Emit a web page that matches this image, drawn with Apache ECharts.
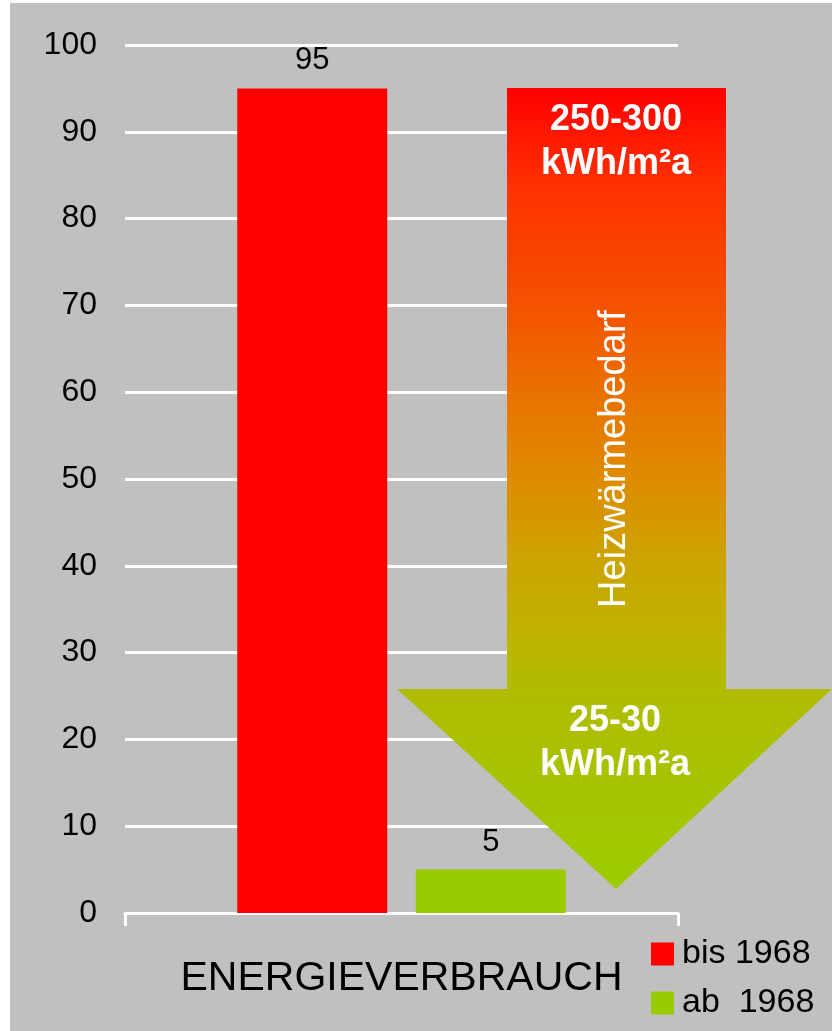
<!DOCTYPE html>
<html>
<head>
<meta charset="utf-8">
<script src="https://cdn.jsdelivr.net/npm/echarts@6/dist/echarts.min.js"></script>
<style>
html,body{margin:0;padding:0;background:#ffffff;}
#chart{position:absolute;left:10px;top:3px;width:822px;height:1028px;}
</style>
</head>
<body>
<div id="chart"></div>
<script>
// ---- data ----
const categories = ['ENERGIEVERBRAUCH'];
const seriesNames = ['bis 1968', 'ab  1968'];
const valuesBis1968 = [95];
const valuesAb1968 = [5];
const yTicks = {min: 0, max: 100, interval: 10};
const arrowTopText = '250-300\nkWh/m²a';
const arrowBottomText = '25-30\nkWh/m²a';
const arrowMidText = 'Heizwärmebedarf';

const FONT = "'Liberation Sans', Helvetica, Arial, sans-serif";
const chart = echarts.init(document.getElementById('chart'), null, {renderer: 'canvas'});

const arrowGradient = new echarts.graphic.LinearGradient(0, 0, 0, 1, [
  {offset: 0, color: '#ff0000'},
  {offset: 0.12, color: '#ff3000'},
  {offset: 0.28, color: '#f45400'},
  {offset: 0.39, color: '#e87400'},
  {offset: 0.49, color: '#de8c00'},
  {offset: 0.59, color: '#cca400'},
  {offset: 0.70, color: '#bcb600'},
  {offset: 0.75, color: '#b0bc00'},
  {offset: 1, color: '#9ccc00'}
]);

const legendText = {fontSize: 34, color: '#000', fontFamily: FONT, padding: [0, 0, 0, 3]};

chart.setOption({
  backgroundColor: '#c0c0c0',
  animation: false,
  textStyle: {fontFamily: FONT},
  grid: {left: 115, right: 154, top: 42, bottom: 118, containLabel: false},
  legend: [
    {
      orient: 'vertical',
      left: 641, top: 934,
      padding: 0,
      itemWidth: 23, itemHeight: 23,
      icon: 'rect',
      textStyle: legendText,
      data: [seriesNames[0]]
    },
    {
      orient: 'vertical',
      left: 641, top: 983,
      padding: 0,
      itemWidth: 23, itemHeight: 23,
      icon: 'rect',
      textStyle: legendText,
      data: [seriesNames[1]]
    }
  ],
  xAxis: {
    type: 'category',
    data: categories,
    axisLine: {show: true, lineStyle: {color: '#ffffff', width: 3}},
    axisTick: {show: true, length: 13, lineStyle: {color: '#ffffff', width: 3}},
    axisLabel: {fontSize: 41, color: '#000', margin: 45, fontFamily: FONT}
  },
  yAxis: {
    type: 'value',
    min: yTicks.min,
    max: yTicks.max,
    interval: yTicks.interval,
    axisLine: {show: false},
    axisTick: {show: false},
    axisLabel: {fontSize: 32, color: '#000', margin: 28, fontFamily: FONT},
    splitLine: {show: true, lineStyle: {color: '#ffffff', width: 3}}
  },
  series: [
    {
      name: seriesNames[0],
      type: 'bar',
      data: valuesBis1968,
      barWidth: 150,
      barGap: '19%',
      itemStyle: {color: '#ff0000'},
      label: {show: true, position: 'top', distance: 12, fontSize: 31, color: '#000', fontFamily: FONT}
    },
    {
      name: seriesNames[1],
      type: 'bar',
      data: valuesAb1968,
      barWidth: 150,
      itemStyle: {color: '#99cc00'},
      label: {show: true, position: 'top', distance: 12, fontSize: 31, color: '#000', fontFamily: FONT}
    }
  ],
  graphic: [
    {
      type: 'polygon',
      z: 100,
      shape: {points: [[497, 85], [716, 85], [716, 686], [822, 686], [606, 886], [387, 686], [497, 686]]},
      style: {fill: arrowGradient}
    },
    {
      type: 'text',
      z: 101,
      x: 606, y: 139,
      style: {text: arrowTopText, fill: '#ffffff', font: 'bold 36px ' + FONT, align: 'center', verticalAlign: 'middle', lineHeight: 44}
    },
    {
      type: 'text',
      z: 101,
      x: 605, y: 740,
      style: {text: arrowBottomText, fill: '#ffffff', font: 'bold 36px ' + FONT, align: 'center', verticalAlign: 'middle', lineHeight: 44}
    },
    {
      type: 'text',
      z: 101,
      x: 605, y: 456,
      rotation: Math.PI / 2,
      style: {text: arrowMidText, fill: '#ffffff', font: '38px ' + FONT, align: 'center', verticalAlign: 'middle'}
    }
  ]
});
</script>
</body>
</html>
